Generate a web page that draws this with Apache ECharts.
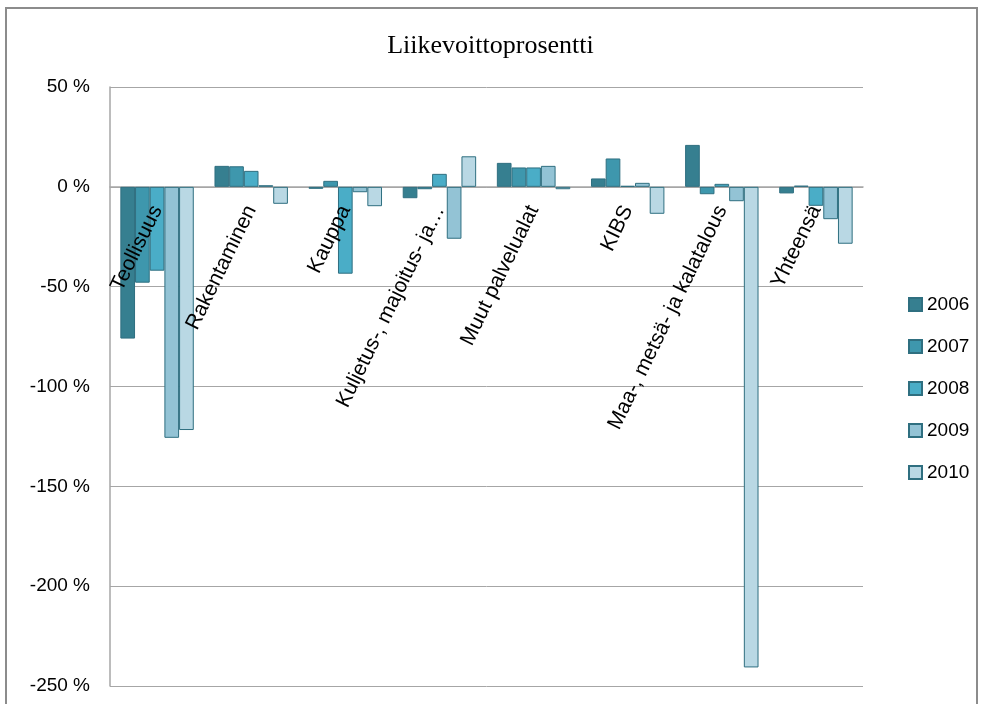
<!DOCTYPE html>
<html>
<head>
<meta charset="utf-8">
<title>Liikevoittoprosentti</title>
<script src="https://cdn.jsdelivr.net/npm/echarts@6/dist/echarts.min.js"></script>
<style>
html, body { margin: 0; padding: 0; background: #fff; }
#chart { width: 981px; height: 704px; }
</style>
</head>
<body>
<div id="chart"></div>
<script>
// toimialat
var categories = ['Teollisuus', 'Rakentaminen', 'Kauppa', 'Kuljetus-, majoitus- ja…',
  'Muut palvelualat', 'KIBS', 'Maa-, metsä- ja kalatalous', 'Yhteensä'];
var years = ['2006', '2007', '2008', '2009', '2010'];

// liikevoittoprosentit vuosittain
var v2006 = [-76, 10.5, -1, -5.7, 12, 4.2, 21, -3.3];
var v2007 = [-48, 10.3, 3, -1.2, 9.7, 14.2, -3.7, 0.6];
var v2008 = [-42, 8, -43.5, 6.5, 9.7, 0.5, 1.5, -9.5];
var v2009 = [-125.7, 0.8, -2.7, -26, 10.5, 2, -7.2, -16.2];
var v2010 = [-121.8, -8.5, -9.7, 15.3, -1.2, -13.5, -240.7, -28.5];

var yTicks = [50, 0, -50, -100, -150, -200, -250];

var colors = ['#367f90', '#3e97ad', '#4aadc7', '#93c3d5', '#b9d8e4'];
var values = [v2006, v2007, v2008, v2009, v2010];

var gridTop = 87, gridBottom = 18, chartH = 704;
var plotH = chartH - gridTop - gridBottom;
var yMin = yTicks[yTicks.length - 1], yMax = yTicks[0];
// luokka-akselin tekstit nollatasolle
var zeroOffset = plotH * (0 - yMin) / (yMax - yMin);

var chart = echarts.init(document.getElementById('chart'));

var series = [];
for (var i = 0; i < years.length; i++) {
  series.push({
    name: years[i],
    type: 'bar',
    data: values[i],
    barGap: '0%',
    barCategoryGap: '22%',
    itemStyle: { color: colors[i], borderColor: '#2f6f80', borderWidth: 1 }
  });
}

chart.setOption({
  animation: false,
  title: {
    text: 'Liikevoittoprosentti',
    left: 'center',
    top: 28,
    textStyle: { fontFamily: 'Liberation Serif', fontWeight: 'normal', fontSize: 26, color: '#000' }
  },
  legend: {
    data: years,
    orient: 'vertical',
    left: 903,
    top: 290,
    itemWidth: 13,
    itemHeight: 13,
    itemGap: 23,
    icon: 'rect',
    textStyle: { fontFamily: 'Liberation Sans', fontSize: 19, color: '#000' }
  },
  grid: { left: 110, right: 118, top: gridTop, bottom: gridBottom, outerBoundsMode: 'none' },
  xAxis: [{
    type: 'category',
    data: categories,
    axisLine: { onZero: true, lineStyle: { color: '#a6a6a6', width: 1.5 } },
    axisTick: { show: false },
    axisLabel: { show: false }
  }, {
    type: 'category',
    data: categories,
    position: 'bottom',
    offset: -zeroOffset,
    z: 10,
    axisLine: { show: false },
    axisTick: { show: false },
    axisLabel: {
      interval: 0,
      rotate: 64,
      margin: 20,
      fontFamily: 'Liberation Sans',
      fontSize: 21,
      color: '#000'
    }
  }],
  yAxis: {
    type: 'value',
    min: yMin,
    max: yMax,
    interval: 50,
    axisLine: { show: true, lineStyle: { color: '#a6a6a6', width: 1.5 } },
    axisTick: { show: false },
    splitLine: { lineStyle: { color: '#a6a6a6', width: 1 } },
    axisLabel: {
      margin: 20,
      fontFamily: 'Liberation Sans',
      fontSize: 19,
      color: '#000',
      formatter: function (v) { return v + ' %'; }
    }
  },
  graphic: [{
    type: 'rect',
    shape: { x: 6, y: 8, width: 971, height: 720 },
    style: { fill: null, stroke: '#8c8c8c', lineWidth: 2 },
    silent: true
  }],
  series: series
});
</script>
</body>
</html>
